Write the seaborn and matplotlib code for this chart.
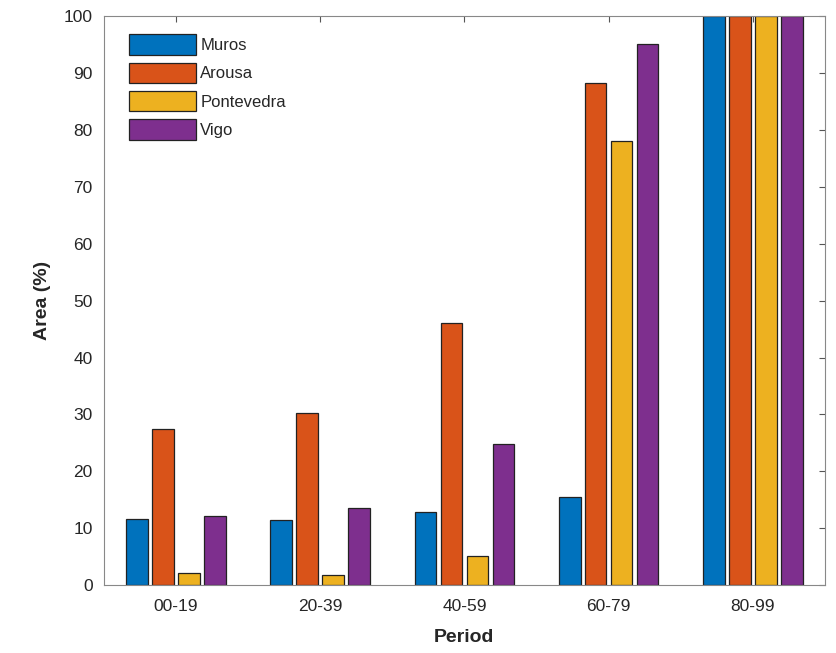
import matplotlib
matplotlib.use("Agg")
import matplotlib.pyplot as plt
import seaborn as sns
import pandas as pd

periods = ["00-19", "20-39", "40-59", "60-79", "80-99"]
regions = ["Muros", "Arousa", "Pontevedra", "Vigo"]
muros = [11.6, 11.5, 12.9, 15.5, 100]
arousa = [27.5, 30.3, 46.1, 88.2, 100]
pontevedra = [2.1, 1.7, 5.1, 78.1, 100]
vigo = [12.1, 13.5, 24.8, 95.1, 100]
colors = ["#0072BD", "#D95319", "#EDB120", "#7E2F8E"]

rows = []
for name, vals in zip(regions, [muros, arousa, pontevedra, vigo]):
    for p, v in zip(periods, vals):
        rows.append({"Period": p, "Region": name, "Area": v})
df = pd.DataFrame(rows)

sns.set_style("white")
plt.rcParams['font.family'] = ['Liberation Sans', 'DejaVu Sans']

fig = plt.figure(figsize=(8.36, 6.53), dpi=100)
ax = fig.add_axes([0.124, 0.104, 0.863, 0.871])
sns.barplot(data=df, x="Period", y="Area", hue="Region", order=periods,
            hue_order=regions, palette=colors, saturation=1, width=0.72, gap=0.17,
            edgecolor="#222222", linewidth=0.9, ax=ax, errorbar=None)

ax.set_xlim(-0.5, 4.5)
ax.set_ylim(0, 100)
ax.set_yticks(range(0, 101, 10))
ax.set_xlabel("Period", fontsize=14, fontweight="bold", color="#262626", labelpad=11)
ax.set_ylabel("Area (%)", fontsize=14, fontweight="bold", color="#262626", labelpad=9)
ax.tick_params(axis="both", direction="in", labelsize=12.5, labelcolor="#262626",
               top=True, right=True, length=4, width=0.8, color="#555555")
ax.tick_params(axis="x", pad=10)
ax.tick_params(axis="y", pad=8)
for s in ax.spines.values():
    s.set_color("#888888")
    s.set_linewidth(0.8)

leg = ax.legend(loc="upper left", bbox_to_anchor=(0.015, 0.995), frameon=False,
                fontsize=12, handlelength=4.0, handleheight=1.5,
                handletextpad=0.25, labelspacing=0.48, title=None)

fig.savefig("out.png", dpi=100)
